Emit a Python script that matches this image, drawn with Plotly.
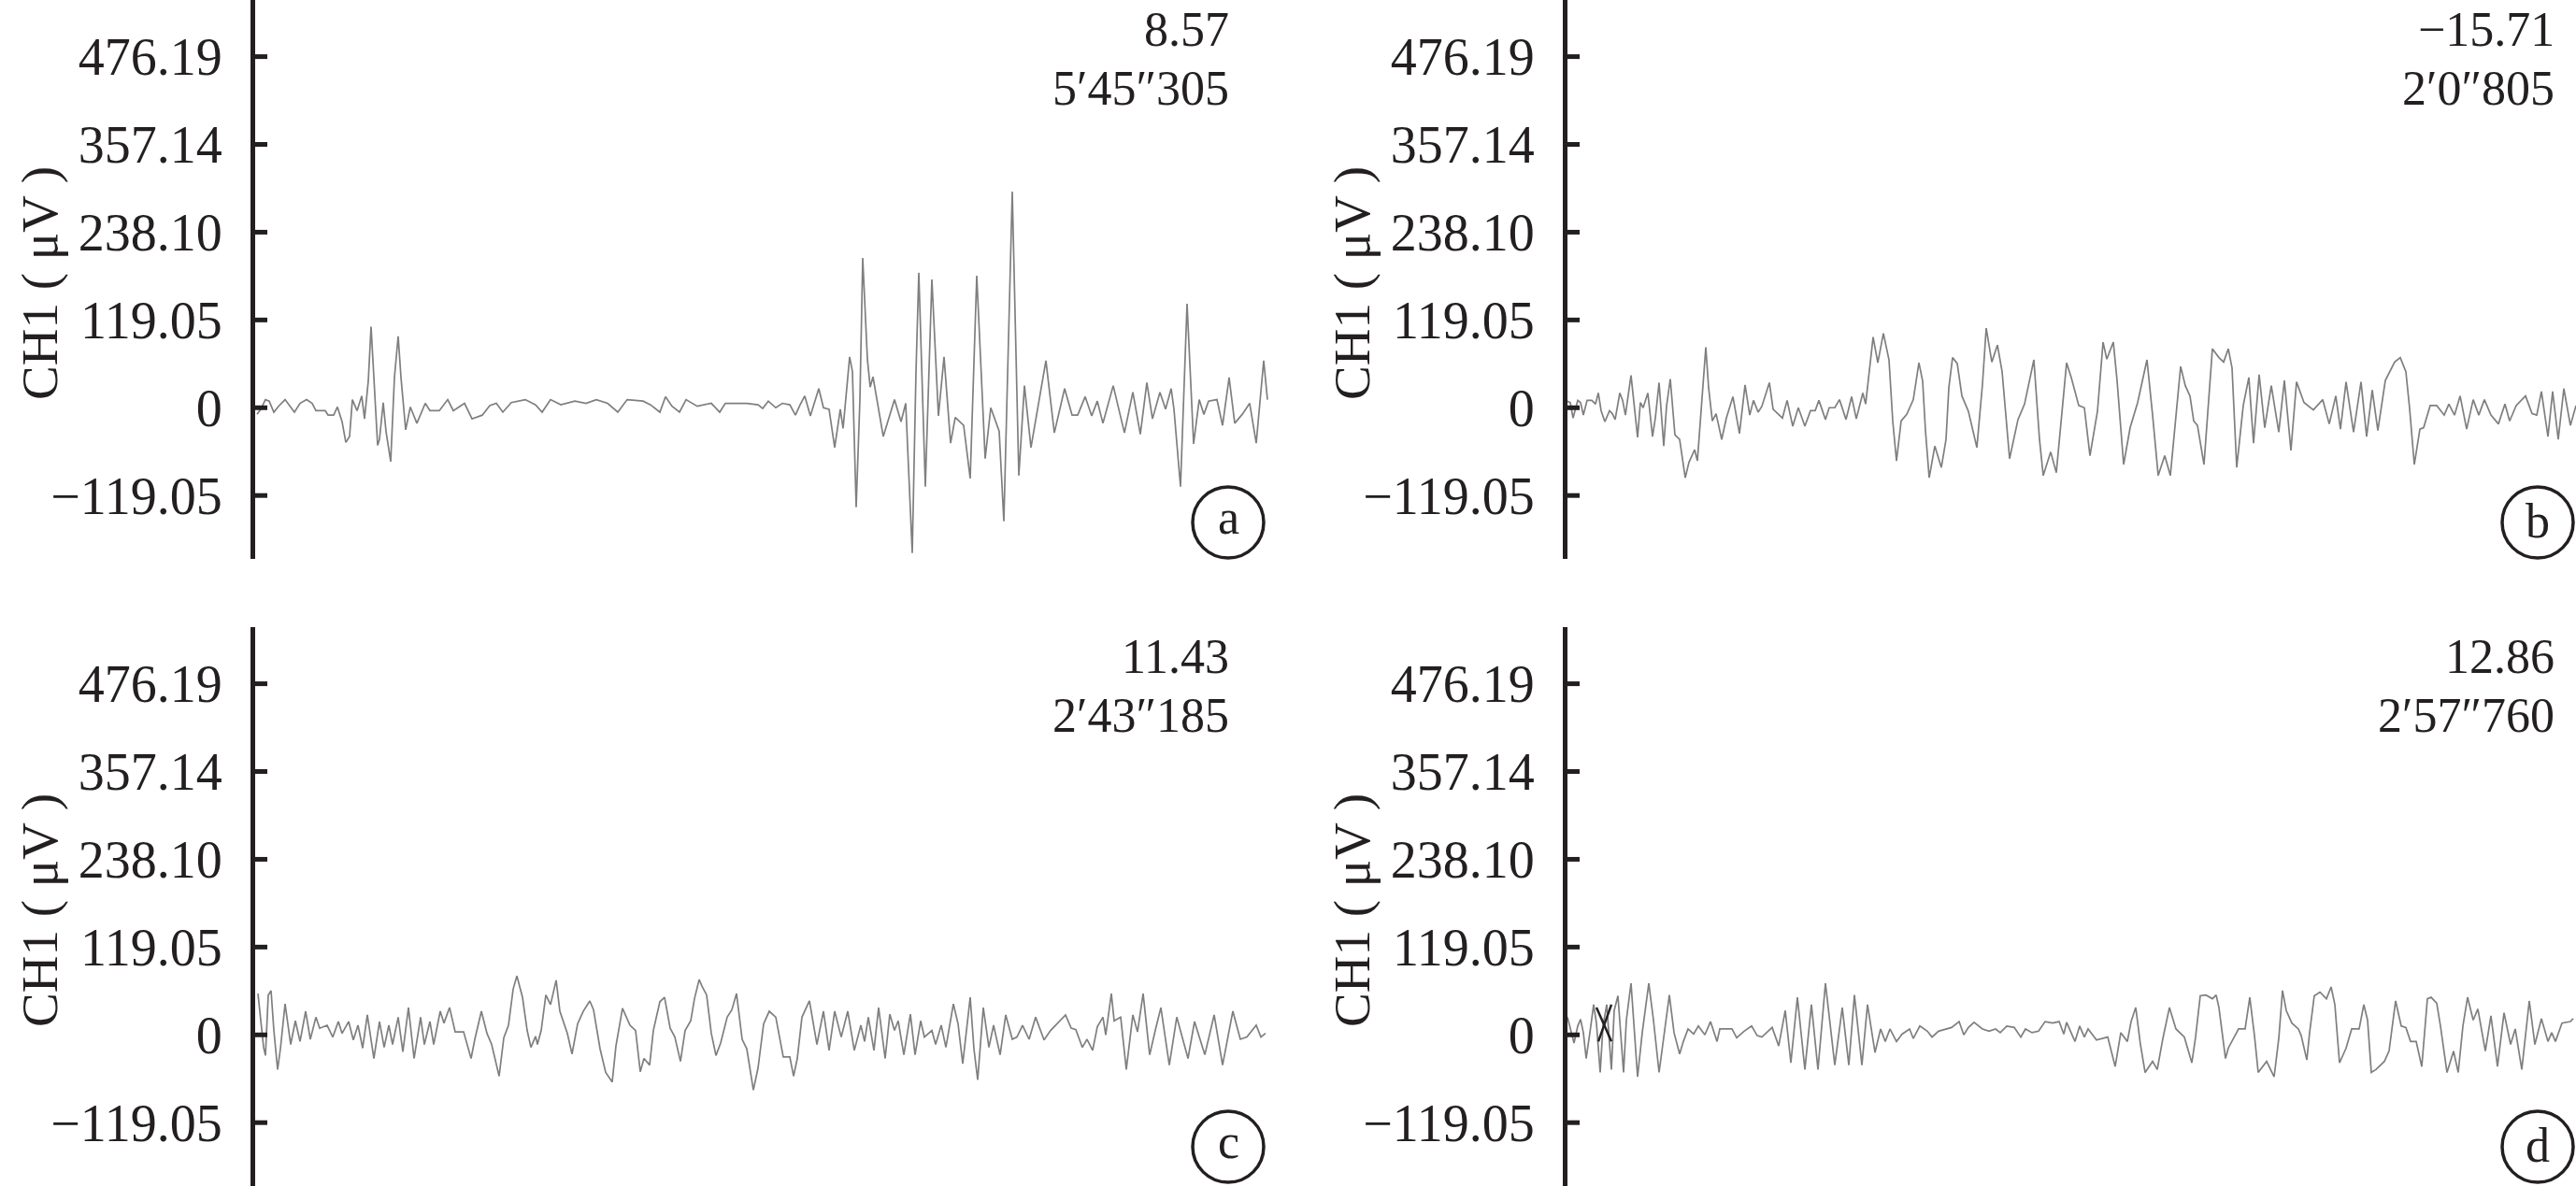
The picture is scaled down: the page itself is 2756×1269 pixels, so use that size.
import plotly.graph_objects as go

# ---------------- data (time sample, amplitude in µV) ----------------
panel_a = [(2,-9),(6,-2),(11,11),(15,9),(20,-6),(25,2),(32,11),(42,-6),(48,6),(55,11),(61,6),(65,-4),(75,-4),(78,-10),(84,-10),(88,1),(93,-19),(97,-47),(101,-39),(104,11),(109,-4),(114,16),(117,-15),(121,36),(124,110),(127,41),(131,-51),(133,-43),(137,7),(140,-32),(145,-73),(149,41),(153,97),(156,41),(161,-30),(166,1),(173,-21),(182,6),(187,-4),(197,-4),(206,11),(212,-4),(224,6),(232,-15),(243,-10),(251,3),(258,6),(265,-6),(274,7),(289,11),(300,4),(307,-6),(316,11),(327,4),(342,9),(354,6),(365,11),(377,6),(388,-6),(398,11),(415,9),(423,4),(433,-6),(439,15),(446,2),(454,-6),(461,11),(473,2),(488,6),(497,-6),(503,6),(526,6),
           (538,4),(543,-1),(549,9),(557,0),(564,6),(572,4),(578,-10),(583,4),(588,16),(594,-11),(603,26),(608,0),(614,-2),(620,-54),(626,-2),(629,-28),(636,69),(639,49),(643,-135),(647,11),(650,203),(655,66),(658,28),(661,42),(672,-39),(684,11),(691,-19),(696,6),(703,-197),(707,49),(710,183),(717,-107),(724,174),(731,-11),(737,69),(744,-48),(749,-13),(758,-24),(765,-96),(772,179),(781,-69),(787,0),(796,-32),(801,-154),(810,293),(817,-92),(823,30),(830,-54),(846,64),(855,-34),(866,26),(874,-10),(880,-10),(888,15),(895,-11),(901,9),(907,-21),(918,30),(930,-34),(939,21),(947,-36),(954,34),(960,-15),(968,21),(974,-2),(980,26),(983,-2),(990,-107),(997,141),(1004,-49),(1010,11),(1015,-9),(1020,9),(1029,11),(1035,-24),(1042,41),(1048,-21),(1056,-9),(1064,6),(1071,-48),(1079,64),(1083,11)]

panel_b = [(0,9),(3,7),(6,-14),(8,-4),(11,10),(14,7),(17,-10),(21,10),(26,10),(30,5),(33,20),(36,-4),(40,-19),(45,-4),(48,-8),(51,-16),(56,20),(59,10),(62,-10),(68,44),(71,11),(75,-40),(78,7),(81,0),(86,20),(91,-39),(94,-14),(98,34),(103,-52),(106,2),(110,39),(115,-37),(120,-43),(126,-95),(130,-74),(136,-57),(139,-72),(142,-18),(146,59),(148,82),(151,27),(155,-18),(159,-8),(165,-43),(170,-14),(177,15),(184,-35),(190,31),(195,-10),(199,10),(204,-6),(208,2),(216,34),(220,-2),(230,-14),(235,10),(241,-25),(247,0),(254,-25),(260,-4),(265,-4),(269,10),(276,-16),(280,0),(286,0),(291,11),(298,-16),(304,15),(309,-15),(316,20),(319,5),(325,69),(327,96),(332,61),(338,101),(344,65),(348,-18),(352,-72),(357,-18),(363,-9),(370,11),(376,61),(380,36),(383,-31),(387,-95),(393,-52),(400,-81),(405,-43),(408,27),(412,68),
           (417,60),(422,16),(429,-5),(438,-54),(444,32),(448,108),(454,62),(460,85),(465,49),(473,-69),(482,-16),(489,5),(499,65),(505,-43),(509,-92),(517,-60),(523,-88),(534,61),(539,41),(547,3),(553,0),(559,-65),(567,-5),(573,89),(577,66),(584,89),(588,37),(595,-77),(602,-27),(610,7),(620,65),(626,-10),(632,-92),(639,-65),(645,-92),(656,56),(661,30),(666,16),(670,-18),(674,-24),(681,-77),(690,80),(697,68),(702,62),(707,80),(711,54),(716,-81),(723,3),(729,41),(734,-48),(740,45),(746,-27),(753,30),(761,-33),(767,37),(774,-58),(780,35),(788,7),(798,-3),(808,11),(815,-22),(822,16),(827,-29),(833,35),(841,-33),(849,35),(855,-39),(861,24),(867,-31),(875,37),(885,62),(891,68),(897,49),(901,-1),(906,-77),(912,-29),(916,-27),(923,3),(930,3),(938,-10),(943,5),(949,-10),(955,16),(962,-29),(969,11),(975,-10),(981,11),(988,-10),(996,-22),(1003,5),(1008,-18),(1015,3),(1025,16),(1032,-8),(1037,-10),(1042,22),(1049,-39),(1054,22),(1060,-43),(1066,26),(1073,-24),(1079,3)]

panel_c = [(3,56),(6,15),(9,-17),(11,-28),(14,54),(17,60),(20,6),(24,-47),(27,-19),(32,42),(38,-13),(43,19),(48,-9),(54,32),(59,-6),(65,24),(69,9),(77,13),(83,-3),(89,18),(93,2),(100,18),(105,-7),(110,13),(115,-18),(120,27),(127,-32),(133,18),(138,-17),(143,13),(147,-13),(153,24),(158,-23),(164,37),(170,-32),(177,24),(181,-13),(187,18),(191,-13),(198,32),(202,16),(208,37),(214,4),(223,4),(231,-32),(235,-6),(242,32),(248,2),(253,-13),(261,-56),(266,-4),(271,13),(276,62),(280,80),(286,51),(291,6),(295,-17),(300,-2),(302,-13),(306,6),(311,54),(316,41),(322,74),(326,32),(334,2),(339,-26),(345,15),(351,32),(358,46),(362,34),(369,-19),(375,-51),(382,-64),(386,-15),(393,36),(401,13),(407,6),(412,-50),(416,-32),(422,-41),(426,6),(433,45),(438,51),(444,9),(449,-3),(455,-36),(460,6),(466,19),(470,49),(475,75),(478,66),(483,54),(488,2),(493,-28),(498,-11),(505,24),(510,34),(515,56),(521,-6),(526,-19),(533,-75),(538,-45),(544,15),(550,32),
           (557,24),(565,-30),(572,-30),(576,-56),(580,-32),(585,24),(593,46),(601,-13),(608,32),(614,-21),(620,32),(627,-3),(634,32),(641,-21),(648,13),(652,-9),(656,24),(662,-21),(667,37),(674,-32),(679,28),(684,6),(688,19),(694,-27),(701,28),(706,-27),(712,19),(716,-3),(724,6),(728,-13),(734,13),(739,-17),(747,42),(752,15),(757,-39),(765,51),(769,-19),(773,-61),(779,37),(785,-17),(790,13),(797,-27),(803,27),(810,-6),(815,-3),(821,13),(828,-6),(835,24),(844,-7),(851,6),(859,17),(867,27),(873,9),(878,7),(885,-17),(890,-6),(896,-21),(901,11),(907,24),(910,0),(916,56),(919,19),(926,24),(932,-47),(939,27),(944,4),(950,56),(957,-27),(963,6),(969,37),(978,-41),(986,24),(998,-32),(1005,18),(1016,-27),(1026,27),(1035,-41),(1046,32),(1054,-6),(1061,-3),(1071,13),(1076,-3),(1081,2)]

panel_d = [(0,24),(4,5),(7,-11),(11,12),(14,21),(17,3),(20,-32),(24,3),(28,41),(31,16),(35,-51),(38,12),(42,41),(47,-47),(50,33),(54,53),(60,-51),(63,20),(68,70),(75,-57),(80,3),(87,70),(92,20),(98,-51),(104,3),(109,54),(114,3),(120,-26),(124,-9),(129,8),(135,1),(140,12),(147,0),(153,18),(160,-9),(163,8),(176,8),(181,-4),(189,5),(197,12),(203,-1),(208,-3),(219,10),(226,-15),(233,33),(239,-38),(246,51),(254,-47),(261,41),(268,-47),(276,70),(286,-41),(294,37),(301,-41),(307,54),(315,-41),(321,41),(329,-24),(335,8),(340,-9),(345,8),(352,-9),(358,1),(366,8),(370,-5),(377,12),(385,5),(390,-3),(397,5),(404,8),(411,10),(419,18),(424,0),(429,10),(435,17),(444,8),(451,5),(458,8),(463,3),(470,12),(478,10),(485,-3),(490,8),(497,3),(504,5),(511,18),(519,16),(526,18),(531,1),(534,17),(543,-9),
           (548,12),(553,-3),(557,8),(566,-7),(578,-3),(583,-30),(586,-43),(592,3),(599,-9),(603,18),(608,37),(613,-13),(618,-51),(626,-36),(631,-47),(637,-5),(644,37),(651,8),(660,-3),(668,-38),(672,-3),(677,53),(683,54),(690,49),(694,54),(697,37),(704,-32),(707,-18),(718,8),(725,8),(730,51),(735,-1),(739,-51),(748,-36),(756,-57),(761,-5),(765,60),(769,33),(775,16),(782,8),(785,-1),(791,-34),(794,3),(799,53),(805,58),(812,49),(817,65),(821,41),(826,-38),(833,-18),(839,8),(847,8),(852,41),(856,20),(860,-51),(865,-47),(874,-36),(879,-22),(886,46),(892,12),(897,10),(902,-9),(908,-9),(914,-43),(920,49),(924,51),(930,43),(934,12),(941,-51),(948,-22),(953,-51),(958,12),(963,51),(969,20),(974,35),(982,-22),(988,26),(995,-43),(1002,30),(1009,-13),(1014,8),(1021,-47),(1029,46),(1035,-13),(1042,22),(1049,-9),(1053,3),(1057,-9),(1064,16),(1073,18),(1076,22)]

# cursor cross drawn on panel d
cursor_d_t = [31, 47, None, 47, 33]
cursor_d_v = [37, -9, None, 41, -9]

tick_vals = [-119.05, 0, 119.05, 238.10, 357.14, 476.19]
tick_text = ["\u2212119.05", "0", "119.05", "238.10", "357.14", "476.19"]
tick_mark_len = 13          # length of the inward tick marks, in time-sample units
panel_values = ["8.57", "\u221215.71", "11.43", "12.86"]
panel_times = ["5\u203245\u2033305", "2\u20320\u2033805", "2\u203243\u2033185", "2\u203257\u2033760"]
panel_letters = ["a", "b", "c", "d"]
y_title = "CH1 ( \u03bcV )"

# ---------------- layout geometry (pixels) ----------------
W, H = 2756, 1269
FONT = "Liberation Serif, Times New Roman, serif"
INK = "#231f20"
TRACE = "#7f7f7f"
FS = 52
FS_TICK = 56
FS_TITLE = 55

left_x0 = 273
right_x0 = 1677
top_rows = (0, 598)       # y pixel extents of top row axes
bot_rows = (671, 1269)    # bottom row
yrange = [-205, 553]

def px_x(x):
    return x / W

def px_y(y):
    return 1 - y / H

panels = [
    dict(data=panel_a, xdom=[px_x(left_x0), px_x(left_x0 + 1100)], xr=[0, 1100], rows=top_rows,
         text_x=1317, circ=(1314, 559)),
    dict(data=panel_b, xdom=[px_x(right_x0), 1.0], xr=[0, 1079], rows=top_rows,
         text_x=2735, circ=(2715, 559)),
    dict(data=panel_c, xdom=[px_x(left_x0), px_x(left_x0 + 1100)], xr=[0, 1100], rows=bot_rows,
         text_x=1317, circ=(1314, 1227)),
    dict(data=panel_d, xdom=[px_x(right_x0), 1.0], xr=[0, 1079], rows=bot_rows,
         text_x=2735, circ=(2715, 1227)),
]

fig = go.Figure()
annotations = []
shapes = []
R = 38
for i, p in enumerate(panels):
    n = "" if i == 0 else str(i + 1)
    t = [q[0] for q in p["data"]]
    v = [q[1] for q in p["data"]]
    fig.add_trace(go.Scatter(x=t, y=v, mode="lines", xaxis="x" + n, yaxis="y" + n,
                             line=dict(color=TRACE, width=1.7), hoverinfo="skip", showlegend=False))
    # inward tick marks at the tick values
    tx, ty = [], []
    for tv in tick_vals:
        tx += [0, tick_mark_len, None]
        ty += [tv, tv, None]
    fig.add_trace(go.Scatter(x=tx, y=ty, mode="lines", xaxis="x" + n, yaxis="y" + n,
                             line=dict(color=INK, width=5), hoverinfo="skip", showlegend=False,
                             cliponaxis=False))
    y0, y1 = p["rows"]
    fig.layout["xaxis" + n] = dict(domain=p["xdom"], range=p["xr"], visible=False, anchor="y" + n)
    fig.layout["yaxis" + n] = dict(domain=[px_y(y1), px_y(y0)], range=yrange, anchor="x" + n,
                                   showline=True, linecolor=INK, linewidth=5,
                                   ticks="", tickvals=tick_vals, ticktext=tick_text,
                                   tickfont=dict(family=FONT, size=FS_TICK, color=INK),
                                   ticklabelstandoff=19,
                                   showgrid=False, zeroline=False)
    # y title
    title_x = 42 if p["xdom"][0] < 0.5 else 42 + (right_x0 - left_x0)
    annotations.append(dict(text=y_title, textangle=-90, xref="paper", yref="paper",
                            x=px_x(title_x), y=px_y((y0 + y1) / 2 + 4), showarrow=False,
                            xanchor="center", yanchor="middle",
                            font=dict(family=FONT, size=FS_TITLE, color=INK)))
    # value & time labels
    annotations.append(dict(text=panel_values[i], xref="paper", yref="paper",
                            x=px_x(p["text_x"]), y=px_y(y0 + 31), xanchor="right", yanchor="middle",
                            showarrow=False, font=dict(family=FONT, size=FS, color=INK)))
    annotations.append(dict(text=panel_times[i], xref="paper", yref="paper",
                            x=px_x(p["text_x"]), y=px_y(y0 + 94), xanchor="right", yanchor="middle",
                            showarrow=False, font=dict(family=FONT, size=FS, color=INK)))
    # circled letter
    cx, cy = p["circ"]
    shapes.append(dict(type="circle", xref="paper", yref="paper",
                       x0=px_x(cx - R), x1=px_x(cx + R), y0=px_y(cy + R), y1=px_y(cy - R),
                       line=dict(color=INK, width=3.5)))
    annotations.append(dict(text=panel_letters[i], xref="paper", yref="paper",
                            x=px_x(cx), y=px_y(cy), xanchor="center", yanchor="middle",
                            yshift=6 if panel_letters[i] in "ac" else 2,
                            showarrow=False, font=dict(family=FONT, size=FS, color=INK)))

fig.add_trace(go.Scatter(x=cursor_d_t, y=cursor_d_v, mode="lines", xaxis="x4", yaxis="y4",
                         line=dict(color=INK, width=2.5), hoverinfo="skip", showlegend=False))

fig.update_layout(width=W, height=H, margin=dict(l=0, r=0, t=0, b=0),
                  paper_bgcolor="white", plot_bgcolor="white",
                  annotations=annotations, shapes=shapes, showlegend=False)

fig.write_html("out.html", config={"displayModeBar": False},
               post_script="document.body.style.margin='0';document.body.style.overflow='hidden';")
